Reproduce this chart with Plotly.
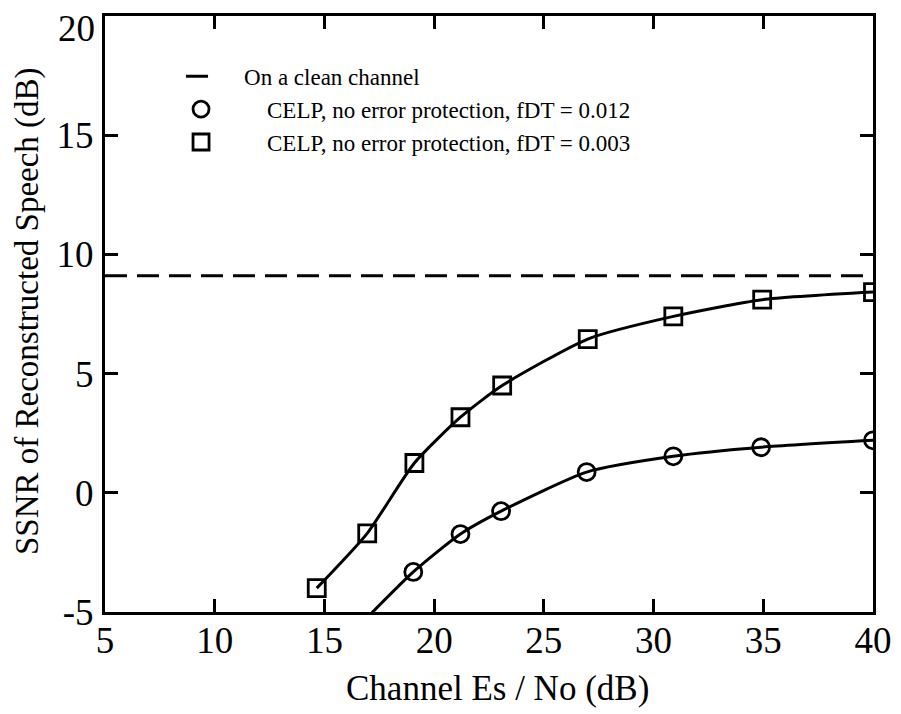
import plotly.graph_objects as go

# Data
clean_x = [5, 40]
clean_y = [9.1, 9.1]

sq_x = [14.65, 16.95, 19.1, 21.2, 23.1, 27.0, 30.9, 34.95, 40.0]
sq_y = [-4.0, -1.7, 1.25, 3.17, 4.5, 6.45, 7.4, 8.1, 8.42]

ci_x = [15.6, 19.05, 21.2, 23.05, 26.95, 30.9, 34.9, 40.0]
ci_y = [-6.5, -3.32, -1.73, -0.77, 0.87, 1.53, 1.91, 2.2]

x_ticks = [5, 10, 15, 20, 25, 30, 35, 40]
y_ticks = [-5, 0, 5, 10, 15, 20]
y_tick_text = ["-5", "0", "5", "10", "15", ""]
y_top_label = "20"

x_title = "Channel Es / No (dB)"
y_title = "SSNR of Reconstructed Speech (dB)"
names = ["On a clean channel",
         "CELP, no error protection, fDT = 0.012",
         "CELP, no error protection, fDT = 0.003"]

FONT = "Liberation Serif"
LW = 3
NB = "\u00a0"

fig = go.Figure()
fig.add_trace(go.Scatter(
    x=clean_x, y=clean_y, mode="lines", name=NB * 4 + names[0],
    line=dict(color="black", width=LW, dash="22px,10px"),
))
# curves (no legend)
fig.add_trace(go.Scatter(
    x=ci_x, y=ci_y, mode="lines", showlegend=False,
    line=dict(color="black", width=LW, shape="spline", smoothing=0.6),
))
fig.add_trace(go.Scatter(
    x=sq_x, y=sq_y, mode="lines", showlegend=False,
    line=dict(color="black", width=LW, shape="spline", smoothing=0.6),
))
# markers (legend)
fig.add_trace(go.Scatter(
    x=ci_x, y=ci_y, mode="markers", name=NB * 8 + names[1],
    marker=dict(symbol="circle-open", size=17, color="black", line=dict(width=2.8)),
))
fig.add_trace(go.Scatter(
    x=sq_x, y=sq_y, mode="markers", name=NB * 8 + names[2],
    marker=dict(symbol="square-open", size=17, color="black", line=dict(width=2.8)),
))

axis_common = dict(
    showgrid=False, zeroline=False, showline=True, linecolor="black", linewidth=3,
    mirror="ticks", ticks="inside", ticklen=13, tickwidth=3, tickcolor="black",
    tickfont=dict(family=FONT, size=37, color="black"),
    ticklabeloverflow="allow", automargin=False,
)

fig.update_xaxes(range=[5, 40], tickvals=x_ticks, ticklabelstandoff=-6, **axis_common)
fig.update_yaxes(range=[-5, 20], tickvals=y_ticks, ticktext=y_tick_text,
                 ticklabelstandoff=1, **axis_common)

# top y label sits just below the frame, as in the reference
fig.add_annotation(
    text=y_top_label, xref="paper", yref="y", x=0, y=y_ticks[-1],
    xanchor="right", yanchor="middle", xshift=-8, yshift=-12, showarrow=False,
    font=dict(family=FONT, size=37, color="black"),
)
fig.add_annotation(
    text=x_title, xref="paper", yref="paper", x=0.5, y=0,
    xanchor="center", yanchor="middle", xshift=8, yshift=-76, showarrow=False,
    font=dict(family=FONT, size=35, color="black"),
)
fig.add_annotation(
    text=y_title, xref="paper", yref="paper", x=0, y=0.5, textangle=-90,
    xanchor="center", yanchor="middle", xshift=-78, yshift=3, showarrow=False,
    font=dict(family=FONT, size=33, color="black"),
)

fig.update_layout(
    width=901, height=714,
    margin=dict(l=105, r=28, t=16, b=102),
    plot_bgcolor="white", paper_bgcolor="white",
    showlegend=True,
    legend=dict(
        x=0.099, y=0.935, xanchor="left", yanchor="top",
        font=dict(family=FONT, size=23, color="black"),
        bgcolor="rgba(0,0,0,0)", tracegroupgap=0,
    ),
)

fig.write_html("out.html", config={"displayModeBar": False},
               post_script="document.body.style.margin='0px';")
